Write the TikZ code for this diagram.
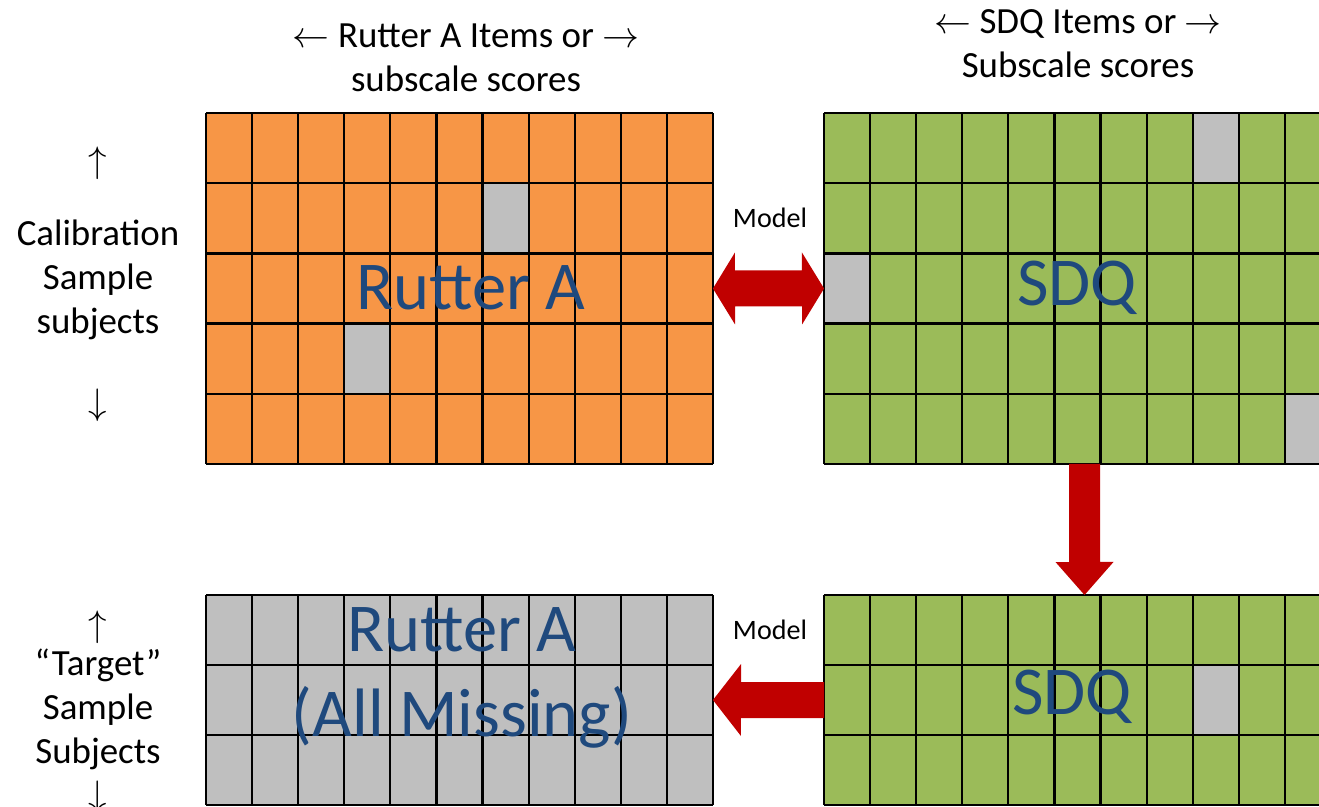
\documentclass[tikz,border=0pt]{standalone}
\usepackage{fix-cm}
\usepackage{fontspec}
\setmainfont{Carlito}
\usetikzlibrary{calc}

\definecolor{rutterorange}{RGB}{247,150,70}
\definecolor{sdqgreen}{RGB}{155,187,89}
\definecolor{missgray}{RGB}{191,191,191}
\definecolor{modelred}{RGB}{192,0,0}
\definecolor{labelblue}{RGB}{31,73,125}

\tikzset{
  gridbox/.style={inner sep=0pt, outer sep=0pt, minimum width=10.14cm},
  cellline/.style={line width=1.25pt, black},
  missing/.style={fill=missgray},
  blockarrow/.style={fill=modelred},
  axislabel/.style={align=center, font=\fontsize{21}{25}\selectfont},
  bigname/.style={align=center, text=labelblue, font=\fontsize{39}{48}\selectfont},
  modellabel/.style={font=\fontsize{16}{19}\selectfont}
}

% cell lines of a grid node: name, columns, rows
\newcommand{\cellgrid}[3]{%
  \foreach \c in {0,...,#2}
    \draw[cellline] ($(#1.north west)!{\c/#2}!(#1.north east)$) -- ($(#1.south west)!{\c/#2}!(#1.south east)$);
  \foreach \r in {0,...,#3}
    \draw[cellline] ($(#1.north west)!{\r/#3}!(#1.south west)$) -- ($(#1.north east)!{\r/#3}!(#1.south east)$);
}
% one missing cell: name, column, row
\newcommand{\misscell}[3]{%
  \fill[missing] ($(#1.north west)+(#2*46.09,#3*70.2)$) rectangle ++(46.09,70.2);
}

\begin{document}
\begin{tikzpicture}[x=0.02cm, y=-0.02cm]
\useasboundingbox (0,0) rectangle (1319,807);
\clip (0,0) rectangle (1319,807);

% data blocks
\node[gridbox, fill=rutterorange, minimum height=7.02cm] (ra) at (459.5,288.5) {};
\node[gridbox, fill=sdqgreen, minimum height=7.02cm] (sdq) at (1077.5,288.5) {};
\node[gridbox, fill=missgray, minimum height=4.2cm] (miss) at (459.5,700) {};
\node[gridbox, fill=sdqgreen, minimum height=4.2cm] (sdqb) at (1077.5,700) {};

\misscell{ra}{6}{1}
\misscell{ra}{3}{3}
\misscell{sdq}{8}{0}
\misscell{sdq}{0}{2}
\misscell{sdq}{10}{4}
\misscell{sdqb}{8}{1}

\cellgrid{ra}{11}{5}
\cellgrid{sdq}{11}{5}
\cellgrid{miss}{11}{3}
\cellgrid{sdqb}{11}{3}

% headings
\node[axislabel] (ratitle) at (466,58) {$\leftarrow$ Rutter A Items or $\rightarrow$\\subscale scores};
\node[axislabel] (sdqtitle) at (1078,44) {$\leftarrow$ SDQ Items or $\rightarrow$\\Subscale scores};

\node[axislabel] (calibup) at (98,163) {$\uparrow$};
\node[axislabel] (calib) at (98,280) {Calibration\\Sample\\subjects};
\node[axislabel] (calibdown) at (98,405) {$\downarrow$};

\node[axislabel] (targetup) at (98,627) {$\uparrow$};
\node[axislabel] (target) at (98,709) {``Target''\\Sample\\Subjects};
\node[axislabel] (targetdown) at (98,797) {$\downarrow$};

\node[bigname] (ralabel) at (471,288) {Rutter A};
\node[bigname] (sdqlabel) at (1077,288) {SDQ};
\node[bigname] (misslabel) at (462,678) {Rutter A\\(All Missing)};
\node[bigname] (sdqblabel) at (1072,697) {SDQ};

\node[modellabel] (modeltop) at (770,218) {Model};
\node[modellabel] (modelbot) at (770,630) {Model};

% model arrows
\fill[blockarrow] (ra.east) -- ++(22,-36) -- ++(0,18) -- ++(67,0) -- ++(0,-18)
  -- (sdq.west) -- ++(-22,36) -- ++(0,-18) -- ++(-67,0) -- ++(0,18) -- cycle;
\fill[blockarrow] ($(sdq.south)+(-8.5,0)$) -- ++(31,0) -- ++(0,98) -- ++(13.5,0)
  -- ($(sdqb.north)+(7,0)$) -- ++(-29,-33) -- ++(13.5,0) -- cycle;
\fill[blockarrow] ($(sdqb.west)+(0,-18)$) -- ++(-83,0) -- ++(0,-18)
  -- (miss.east) -- ++(28,36) -- ++(0,-18) -- ($(sdqb.west)+(0,18)$) -- cycle;
\end{tikzpicture}
\end{document}
